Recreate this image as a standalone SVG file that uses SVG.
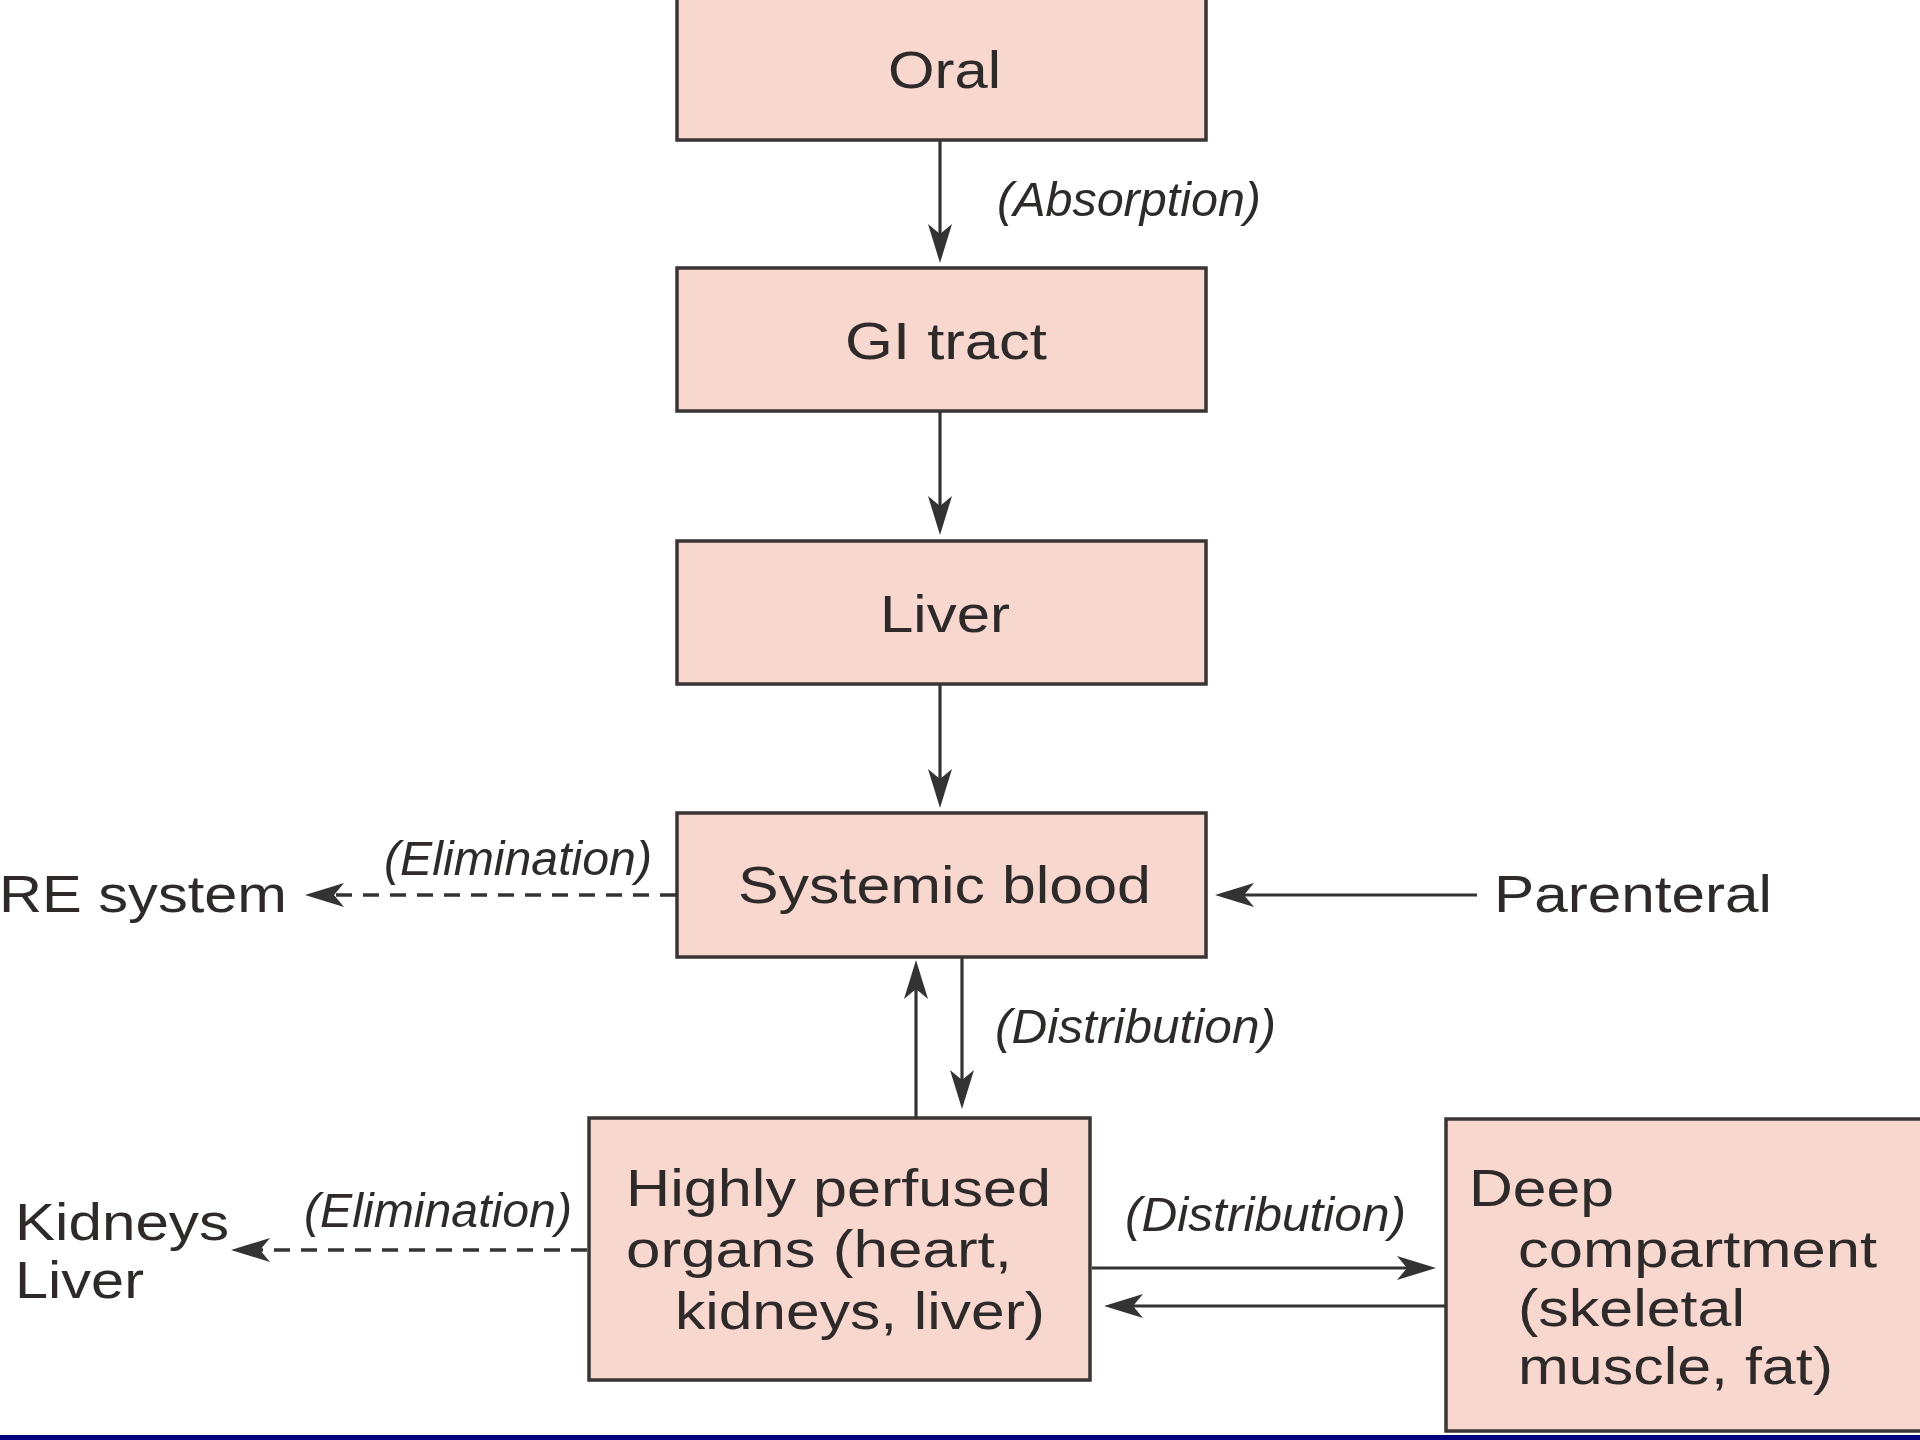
<svg xmlns="http://www.w3.org/2000/svg" width="1920" height="1440" viewBox="0 0 1920 1440">
<style>
  .box { fill: #f8d7cf; stroke: #3a3434; stroke-width: 3.5; }
  .t { font-family: "Liberation Sans", Arial, Helvetica, sans-serif; font-size: 52px; fill: #2e2a2a; }
  .lbl { font-family: "Liberation Sans", Arial, Helvetica, sans-serif; font-size: 49px; font-style: italic; fill: #2e2a2a; }
  .ln { stroke: #333; stroke-width: 3.2; fill: none; }
  .dash { stroke-dasharray: 16 11; stroke-width: 3.6; }
</style>
<defs>
  <marker id="ah" markerUnits="userSpaceOnUse" viewBox="0 0 40 26" markerWidth="40" markerHeight="26" refX="18" refY="13" orient="auto">
    <path d="M0,1 L39,13 L0,25 L10,13 Z" fill="#333"/>
  </marker>
</defs>
<rect width="1920" height="1440" fill="#ffffff"/>

<g id="connectors">
  <line class="ln" x1="940" y1="140" x2="940" y2="242" marker-end="url(#ah)"/>
  <line class="ln" x1="940" y1="411" x2="940" y2="514" marker-end="url(#ah)"/>
  <line class="ln" x1="940" y1="684" x2="940" y2="787" marker-end="url(#ah)"/>
  <line class="ln dash" x1="676" y1="895" x2="326" y2="895" marker-end="url(#ah)"/>
  <line class="ln" x1="1477" y1="895" x2="1236" y2="895" marker-end="url(#ah)"/>
  <line class="ln" x1="916" y1="1118" x2="916" y2="981" marker-end="url(#ah)"/>
  <line class="ln" x1="962" y1="957" x2="962" y2="1088" marker-end="url(#ah)"/>
  <line class="ln dash" x1="587" y1="1250" x2="252" y2="1250" marker-end="url(#ah)"/>
  <line class="ln" x1="1092" y1="1268" x2="1415" y2="1268" marker-end="url(#ah)"/>
  <line class="ln" x1="1445" y1="1306" x2="1125" y2="1306" marker-end="url(#ah)"/>
  <text class="lbl" x="997" y="216" textLength="264" lengthAdjust="spacingAndGlyphs">(Absorption)</text>
  <text class="lbl" x="384" y="875" textLength="268" lengthAdjust="spacingAndGlyphs">(Elimination)</text>
  <text class="lbl" x="995" y="1043" textLength="281" lengthAdjust="spacingAndGlyphs">(Distribution)</text>
  <text class="lbl" x="304" y="1227" textLength="268" lengthAdjust="spacingAndGlyphs">(Elimination)</text>
  <text class="lbl" x="1125" y="1231" textLength="281" lengthAdjust="spacingAndGlyphs">(Distribution)</text>
</g>

<g id="oral">
  <rect class="box" x="677" y="-4" width="529" height="144"/>
  <text class="t" x="888" y="88" textLength="113" lengthAdjust="spacingAndGlyphs">Oral</text>
</g>
<g id="gi-tract">
  <rect class="box" x="677" y="268" width="529" height="143"/>
  <text class="t" x="845" y="359" textLength="202" lengthAdjust="spacingAndGlyphs">GI tract</text>
</g>
<g id="liver">
  <rect class="box" x="677" y="541" width="529" height="143"/>
  <text class="t" x="880" y="632" textLength="130" lengthAdjust="spacingAndGlyphs">Liver</text>
</g>
<g id="systemic-blood">
  <rect class="box" x="677" y="813" width="529" height="144"/>
  <text class="t" x="738" y="903" textLength="413" lengthAdjust="spacingAndGlyphs">Systemic blood</text>
</g>
<g id="re-system">
  <text class="t" x="-1" y="912" textLength="288" lengthAdjust="spacingAndGlyphs">RE system</text>
</g>
<g id="parenteral">
  <text class="t" x="1494" y="912" textLength="278" lengthAdjust="spacingAndGlyphs">Parenteral</text>
</g>
<g id="highly-perfused">
  <rect class="box" x="589" y="1118" width="501" height="262"/>
  <text class="t" x="626" y="1206" textLength="425" lengthAdjust="spacingAndGlyphs">Highly perfused</text>
  <text class="t" x="626" y="1267" textLength="386" lengthAdjust="spacingAndGlyphs">organs (heart,</text>
  <text class="t" x="675" y="1329" textLength="370" lengthAdjust="spacingAndGlyphs">kidneys, liver)</text>
</g>
<g id="kidneys-liver">
  <text class="t" x="15" y="1240" textLength="214" lengthAdjust="spacingAndGlyphs">Kidneys</text>
  <text class="t" x="15" y="1298" textLength="129" lengthAdjust="spacingAndGlyphs">Liver</text>
</g>
<g id="deep-compartment">
  <rect class="box" x="1446" y="1119" width="490" height="312"/>
  <text class="t" x="1469" y="1206" textLength="145" lengthAdjust="spacingAndGlyphs">Deep</text>
  <text class="t" x="1518" y="1267" textLength="359" lengthAdjust="spacingAndGlyphs">compartment</text>
  <text class="t" x="1518" y="1326" textLength="227" lengthAdjust="spacingAndGlyphs">(skeletal</text>
  <text class="t" x="1518" y="1384" textLength="315" lengthAdjust="spacingAndGlyphs">muscle, fat)</text>
</g>
<rect x="0" y="1435" width="1920" height="5" fill="#000080"/>
</svg>
